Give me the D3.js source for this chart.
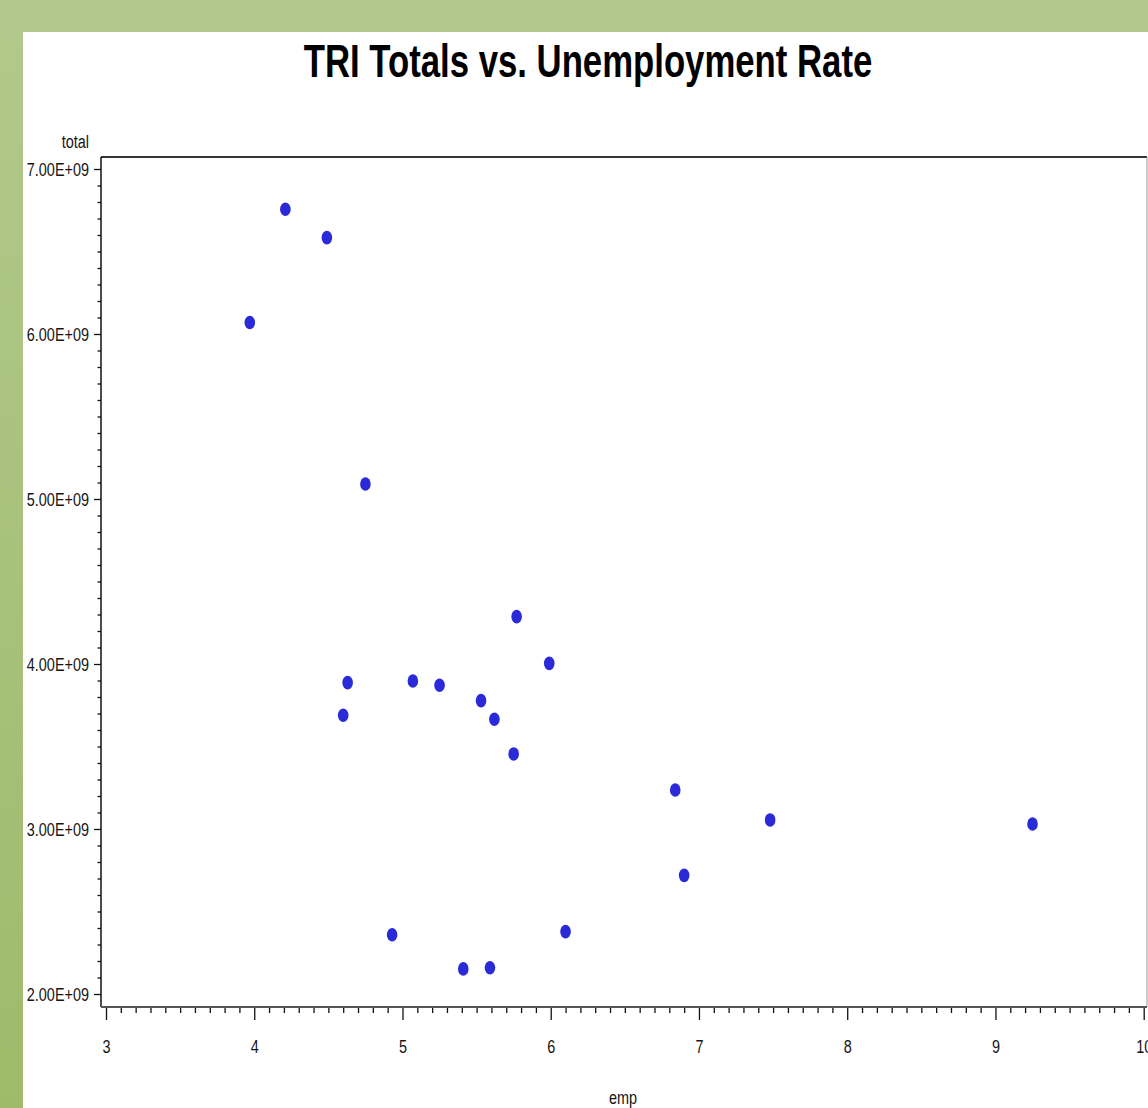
<!DOCTYPE html>
<html>
<head>
<meta charset="utf-8">
<script src="https://cdn.jsdelivr.net/npm/d3@7"></script>
<style>
  html, body { margin: 0; padding: 0; overflow: hidden; background: #fff; }
  svg { display: block; }
</style>
</head>
<body>
<script>
// Unemployment rate (%) for each year
const empRate = [3.97, 4.21, 4.49, 4.75, 4.63, 4.60, 5.07, 5.25, 5.53, 5.62, 5.75,
                 5.77, 5.99, 4.93, 5.41, 5.59, 6.10, 6.84, 6.90, 7.48, 9.25];
// TRI release totals (pounds) for the same years
const triTotal = [6.07e9, 6.756e9, 6.584e9, 5.091e9, 3.887e9, 3.689e9, 3.897e9, 3.871e9, 3.778e9, 3.665e9, 3.455e9,
                  4.287e9, 4.004e9, 2.359e9, 2.152e9, 2.159e9, 2.378e9, 3.236e9, 2.719e9, 3.055e9, 3.030e9];

const xTicks = [3, 4, 5, 6, 7, 8, 9, 10];
const yTicks = [2e9, 3e9, 4e9, 5e9, 6e9, 7e9];
const yTickLabels = ["2.00E+09", "3.00E+09", "4.00E+09", "5.00E+09", "6.00E+09", "7.00E+09"];
const xMinor = d3.range(30, 101).map(v => v / 10).filter(v => !xTicks.includes(v));
const yMinor = d3.range(20, 71).map(v => v * 1e8).filter(v => !yTicks.includes(v));

const W = 1148, H = 1108;
const frame = { left: 101, top: 157, right: 1147, bottom: 1007 };
const squeeze = 0.76;   // condensed text width

const svg = d3.select("body").append("svg")
  .attr("width", W).attr("height", H);

// slide backdrop
const defs = svg.append("defs");
const grad = defs.append("linearGradient").attr("id", "sideGrad")
  .attr("x1", 0).attr("y1", 0).attr("x2", 0).attr("y2", 1);
grad.append("stop").attr("offset", "0%").attr("stop-color", "#b1c98c");
grad.append("stop").attr("offset", "100%").attr("stop-color", "#9ebb6b");

svg.append("rect").attr("x", 0).attr("y", 0).attr("width", W).attr("height", 32).attr("fill", "#b0c88b");
svg.append("rect").attr("x", 0).attr("y", 0).attr("width", 23).attr("height", H).attr("fill", "url(#sideGrad)");
svg.append("rect").attr("x", 23).attr("y", 32).attr("width", W - 23).attr("height", H - 32).attr("fill", "#ffffff");

const x = d3.scaleLinear().domain([3, 10]).range([106, 1143.7]);
const y = d3.scaleLinear().domain([2e9, 7e9]).range([994, 169]);

const font = "'Liberation Sans', Arial, sans-serif";

// title
svg.append("text")
  .attr("transform", `translate(588,77) scale(0.755,1)`)
  .attr("text-anchor", "middle")
  .attr("font-family", font).attr("font-weight", "bold").attr("font-size", 46)
  .attr("fill", "#000")
  .text("TRI Totals vs. Unemployment Rate");

// frame
svg.append("line").attr("x1", frame.left).attr("x2", frame.right).attr("y1", frame.top).attr("y2", frame.top)
  .attr("stroke", "#333").attr("stroke-width", 2);
svg.append("line").attr("x1", frame.right).attr("x2", frame.right).attr("y1", frame.top).attr("y2", frame.bottom)
  .attr("stroke", "#999").attr("stroke-width", 1);

// y axis
const yMinorAxis = svg.append("g").attr("transform", `translate(${frame.left},0)`)
  .call(d3.axisLeft(y).tickValues(yMinor).tickSize(3.5).tickFormat(""));
const yAxis = svg.append("g").attr("transform", `translate(${frame.left},0)`)
  .call(d3.axisLeft(y).tickValues(yTicks).tickSize(7).tickFormat((d, i) => yTickLabels[i]));

// x axis
const xMinorAxis = svg.append("g").attr("transform", `translate(0,${frame.bottom})`)
  .call(d3.axisBottom(x).tickValues(xMinor).tickSize(6).tickFormat(""));
const xAxis = svg.append("g").attr("transform", `translate(0,${frame.bottom})`)
  .call(d3.axisBottom(x).tickValues(xTicks).tickSize(13).tickFormat(d3.format("d")));

[yMinorAxis, yAxis, xMinorAxis, xAxis].forEach(g => {
  g.select(".domain").remove();
  g.selectAll(".tick line").attr("stroke", "#111").attr("stroke-width", 1.3);
});

yAxis.selectAll(".tick text")
  .attr("x", null).attr("dy", "0.35em")
  .attr("transform", `translate(-12,0) scale(${squeeze},1)`)
  .attr("font-family", font).attr("font-size", 19).attr("fill", "#141414");

xAxis.selectAll(".tick text")
  .attr("y", null).attr("dy", null)
  .attr("transform", `translate(0,46) scale(${squeeze},1)`)
  .attr("font-family", font).attr("font-size", 19).attr("fill", "#141414");

// axis lines
svg.append("line").attr("x1", frame.left).attr("x2", frame.left).attr("y1", frame.top).attr("y2", frame.bottom)
  .attr("stroke", "#111").attr("stroke-width", 1.5);
svg.append("line").attr("x1", frame.left).attr("x2", frame.right).attr("y1", frame.bottom).attr("y2", frame.bottom)
  .attr("stroke", "#555").attr("stroke-width", 2);

// axis titles
svg.append("text")
  .attr("transform", `translate(89,148) scale(${squeeze},1)`)
  .attr("text-anchor", "end")
  .attr("font-family", font).attr("font-size", 19).attr("fill", "#141414")
  .text("total");
svg.append("text")
  .attr("transform", `translate(623,1104) scale(${squeeze},1)`)
  .attr("text-anchor", "middle")
  .attr("font-family", font).attr("font-size", 19).attr("fill", "#141414")
  .text("emp");

// points
svg.append("g").selectAll("ellipse")
  .data(d3.zip(empRate, triTotal))
  .join("ellipse")
  .attr("cx", d => x(d[0]))
  .attr("cy", d => y(d[1]))
  .attr("rx", 5.3)
  .attr("ry", 6.8)
  .attr("fill", "#2a2ad9");
</script>
</body>
</html>
